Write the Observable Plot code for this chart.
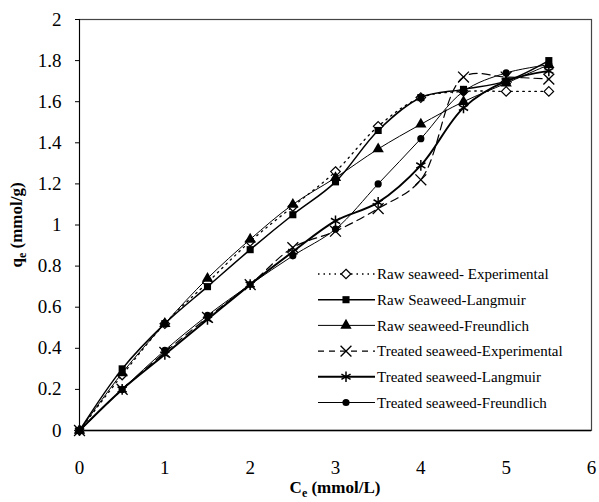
<!DOCTYPE html>
<html>
<head>
<meta charset="utf-8">
<script src="https://cdn.jsdelivr.net/npm/d3@7"></script>
<script src="https://cdn.jsdelivr.net/npm/@observablehq/plot@0.6"></script>
<style>
  body { margin: 0; background: #fff; }
  #chart svg { display: block; }
  #chart svg, #chart svg text, #chart svg tspan { font-family: "Liberation Serif", "DejaVu Serif", "Noto Serif", "Times New Roman", serif !important; }
</style>
</head>
<body>
<div id="chart"></div>
<script>
const ce = [0, 0.5, 1, 1.5, 2, 2.5, 3, 3.5, 4, 4.5, 5, 5.5];
const rawExp    = [0, 0.27, 0.52, 0.72, 0.92, 1.09, 1.26, 1.48, 1.62, 1.65, 1.65, 1.65];
const rawLang   = [0, 0.30, 0.52, 0.70, 0.88, 1.05, 1.21, 1.46, 1.62, 1.66, 1.70, 1.80];
const rawFreu   = [0, 0.28, 0.52, 0.74, 0.93, 1.10, 1.23, 1.37, 1.49, 1.60, 1.69, 1.78];
const treatExp  = [0, 0.20, 0.38, 0.55, 0.71, 0.89, 0.97, 1.08, 1.22, 1.72, 1.72, 1.71];
const treatLang = [0, 0.20, 0.37, 0.54, 0.71, 0.87, 1.02, 1.11, 1.29, 1.57, 1.70, 1.75];
const treatFreu = [0, 0.20, 0.39, 0.56, 0.71, 0.85, 0.98, 1.20, 1.42, 1.65, 1.74, 1.78];
const xTicks = [0, 1, 2, 3, 4, 5, 6];
const yTicks = [0, 0.2, 0.4, 0.6, 0.8, 1, 1.2, 1.4, 1.6, 1.8, 2];

const seriesNames = [
  "Raw seaweed- Experimental",
  "Raw Seaweed-Langmuir",
  "Raw seaweed-Freundlich",
  "Treated seaweed-Experimental",
  "Treated seaweed-Langmuir",
  "Treated seaweed-Freundlich"
];
const seriesValues = [rawExp, rawLang, rawFreu, treatExp, treatLang, treatFreu];
const styles = [
  {dash: "1.5,4.5", width: 1.3, symbol: "diamond2", fill: "white", r: 4.3, stroke: 1.2},
  {dash: null, width: 1.5, symbol: "square", fill: "black", r: 4, stroke: 0},
  {dash: null, width: 1, symbol: "triangle", fill: "black", r: 4.2, stroke: 0},
  {dash: "8,5", width: 1.2, symbol: "times", fill: "none", r: 5, stroke: 1.3},
  {dash: null, width: 2, symbol: "asterisk", fill: "none", r: 5, stroke: 1.5},
  {dash: null, width: 1, symbol: "circle", fill: "black", r: 3.6, stroke: 0}
];

const FONT = "Liberation Serif, DejaVu Serif, Noto Serif, Times New Roman, serif";

const data = seriesNames.flatMap((name, i) =>
  ce.map((x, j) => ({series: name, i, x, y: seriesValues[i][j]}))
);

const marks = [];
seriesNames.forEach((name, i) => {
  const s = styles[i];
  const d = data.filter(p => p.i === i);
  marks.push(Plot.line(d, {
    x: "x", y: "y", curve: "catmull-rom",
    stroke: "black", strokeWidth: s.width,
    strokeDasharray: s.dash
  }));
});
seriesNames.forEach((name, i) => {
  const s = styles[i];
  const d = data.filter(p => p.i === i);
  marks.push(Plot.dot(d, {
    x: "x", y: "y", symbol: () => s.symbol, r: s.r,
    fill: s.fill, stroke: s.stroke ? "black" : "none", strokeWidth: s.stroke
  }));
});

const chart = Plot.plot({
  width: 599,
  height: 502,
  marginLeft: 79,
  marginRight: 8,
  marginTop: 19,
  marginBottom: 72,
  style: {fontFamily: FONT, background: "white", color: "black"},
  symbol: {type: "identity"},
  x: {domain: [0, 6], ticks: xTicks, tickSize: 0, tickPadding: 0, label: null},
  y: {domain: [0, 2], ticks: yTicks, tickSize: 4, tickPadding: 16, label: null},
  marks: [
    Plot.frame({stroke: "#444", strokeWidth: 1.2}),
    Plot.ruleY([0], {stroke: "black", strokeWidth: 1.3}),
    Plot.ruleX([0], {stroke: "black", strokeWidth: 1}),
    Plot.axisX({ticks: xTicks, tickSize: 0, tickPadding: 0, dy: 30, fontSize: 19, fontFamily: FONT, tickFormat: d => String(d), label: null}),
    Plot.axisY({ticks: yTicks, tickSize: 4, tickPadding: 14, fontSize: 19, fontFamily: FONT, tickFormat: d => String(+d.toFixed(1)), label: null}),
    ...marks
  ]
});

document.getElementById("chart").appendChild(chart);
chart.setAttribute("font-family", FONT);

// Axis titles with subscripts, and the legend
const svg = d3.select(chart);

const xt = svg.append("text")
  .attr("x", 335).attr("y", 493)
  .attr("text-anchor", "middle")
  .attr("font-family", FONT)
  .attr("font-weight", "bold").attr("font-size", 17)
  .attr("fill", "black");
xt.append("tspan").text("C");
xt.append("tspan").attr("font-size", 12).attr("dy", 4).text("e");
xt.append("tspan").attr("dy", -4).text(" (mmol/L)");

const yt = svg.append("text")
  .attr("transform", "translate(22,225) rotate(-90)")
  .attr("text-anchor", "middle")
  .attr("font-family", FONT)
  .attr("font-weight", "bold").attr("font-size", 17)
  .attr("fill", "black");
yt.append("tspan").text("q");
yt.append("tspan").attr("font-size", 12).attr("dy", 4).text("e");
yt.append("tspan").attr("dy", -4).text(" (mmol/g)");

const symMap = {
  diamond2: d3.symbolDiamond2, square: d3.symbolSquare, triangle: d3.symbolTriangle,
  times: d3.symbolTimes, asterisk: d3.symbolAsterisk, circle: d3.symbolCircle
};
const leg = svg.append("g");
seriesNames.forEach((name, i) => {
  const s = styles[i];
  const y = 274 + i * 25.7;
  const g = leg.append("g");
  g.append("line").attr("x1", 318).attr("x2", 375).attr("y1", y).attr("y2", y)
    .attr("stroke", "black").attr("stroke-width", s.width)
    .attr("stroke-dasharray", s.dash ? (i === 0 ? "1.5,4" : "6,5") : null);
  g.append("path")
    .attr("transform", `translate(346,${y})`)
    .attr("d", d3.symbol(symMap[s.symbol], Math.PI * s.r * s.r)())
    .attr("fill", s.fill).attr("stroke", s.stroke ? "black" : "none")
    .attr("stroke-width", s.stroke);
  g.append("text").attr("x", 377).attr("y", y).attr("dy", "0.35em")
    .attr("text-anchor", "start")
    .attr("font-family", FONT)
    .attr("font-size", 15).attr("fill", "black")
    .text(name);
});
</script>
</body>
</html>
